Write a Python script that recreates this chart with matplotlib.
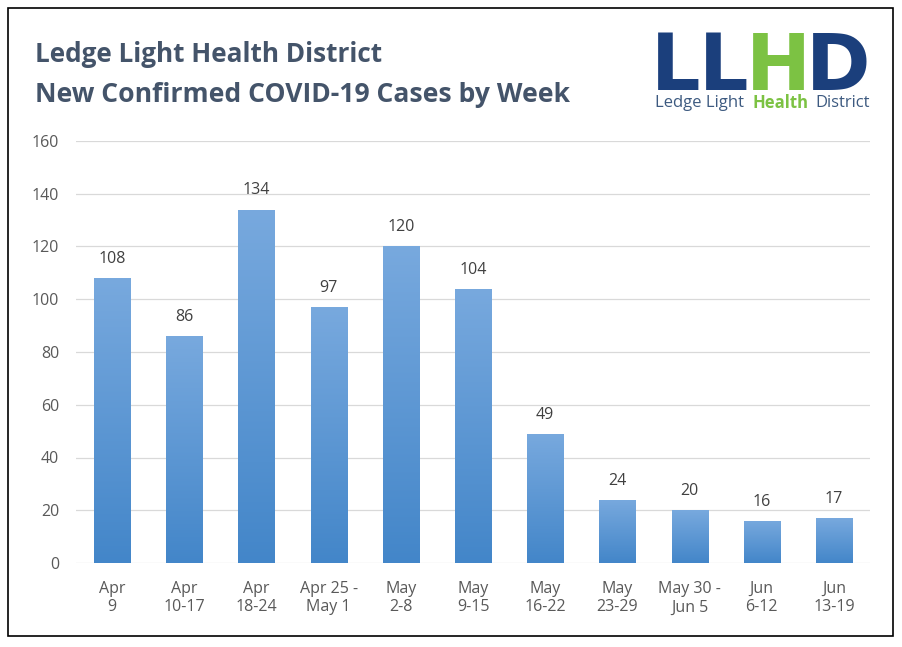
import matplotlib
matplotlib.use("Agg")
import matplotlib.pyplot as plt
import numpy as np
from matplotlib.patches import Rectangle
from matplotlib.colors import LinearSegmentedColormap

categories = ["Apr\n9", "Apr\n10-17", "Apr\n18-24", "Apr 25 -\nMay 1", "May\n2-8",
              "May\n9-15", "May\n16-22", "May\n23-29", "May 30 -\nJun 5", "Jun\n6-12", "Jun\n13-19"]
cases = [108, 86, 134, 97, 120, 104, 49, 24, 20, 16, 17]
yticks = [0, 20, 40, 60, 80, 100, 120, 140, 160]

FONT = ["Open Sans", "DejaVu Sans"]
plt.rcParams['font.family'] = FONT

fig = plt.figure(figsize=(9.02, 6.47), dpi=100)
fig.patches.append(Rectangle((8/902, 1-636/647), 885/902, 628/647, transform=fig.transFigure,
                             fill=False, edgecolor="black", linewidth=1.2))

ax = fig.add_axes([76/902, 1-563/647, 794/902, 422/647])
x = np.arange(len(cases))
bars = ax.bar(x, cases, width=0.5, color="none", edgecolor="none", zorder=2)
cmap = LinearSegmentedColormap.from_list("g", ["#4386c9", "#78a9de"])
grad = np.linspace(0, 1, 256).reshape(-1, 1)
for b in bars:
    bx, by = b.get_x(), b.get_y()
    w, h = b.get_width(), b.get_height()
    im = ax.imshow(grad, cmap=cmap, origin="lower", aspect="auto",
                   extent=[bx, bx + w, by, by + h], zorder=2)
    im.set_clip_path(b)

for xi, v in zip(x, cases):
    ax.annotate(str(v), (xi, v), xytext=(0, 8), textcoords="offset points",
                ha="center", va="bottom", fontsize=11.5, color="#404040")

ax.set_xlim(-0.5, len(cases) - 0.5)
ax.set_ylim(0, 160)
ax.set_yticks(yticks)
ax.set_xticks(x)
ax.set_xticklabels(categories, fontsize=11.5, color="#595959", linespacing=1.2)
ax.tick_params(axis="y", labelsize=11.5, labelcolor="#595959", length=0, pad=12)
ax.tick_params(axis="x", length=0, pad=13)
ax.grid(axis="y", color="#d9d9d9", linewidth=0.9, zorder=0)
ax.set_axisbelow(True)
for s in ax.spines.values():
    s.set_visible(False)

fig.text(35/902, 1-55/647, "Ledge Light Health District", fontsize=18.8, fontweight="bold",
         color="#44546a", va="center", ha="left")
fig.text(35/902, 1-95/647, "New Confirmed COVID-19 Cases by Week", fontsize=19.1, fontweight="bold",
         color="#44546a", va="center", ha="left")

# logo
navy = "#1b3f7c"
green = "#7cc243"
ly = 1 - 90/647
for ch, px, col in [("L", 651, navy), ("L", 699, navy), ("H", 746, green), ("D", 806, navy)]:
    fig.text(px/902, ly, ch, fontsize=56, fontweight="heavy", color=col, va="baseline", ha="left",
             family=["DejaVu Sans"])
sy = 1 - 103/647
fig.text(655/902, sy, "Ledge Light", fontsize=12, color="#3d5a80", va="center", ha="left")
fig.text(752/902, sy, "Health", fontsize=12, color=green, fontweight="bold", va="center", ha="left")
fig.text(815/902, sy, "District", fontsize=12, color="#3d5a80", va="center", ha="left")

fig.savefig("out.png", dpi=100)
